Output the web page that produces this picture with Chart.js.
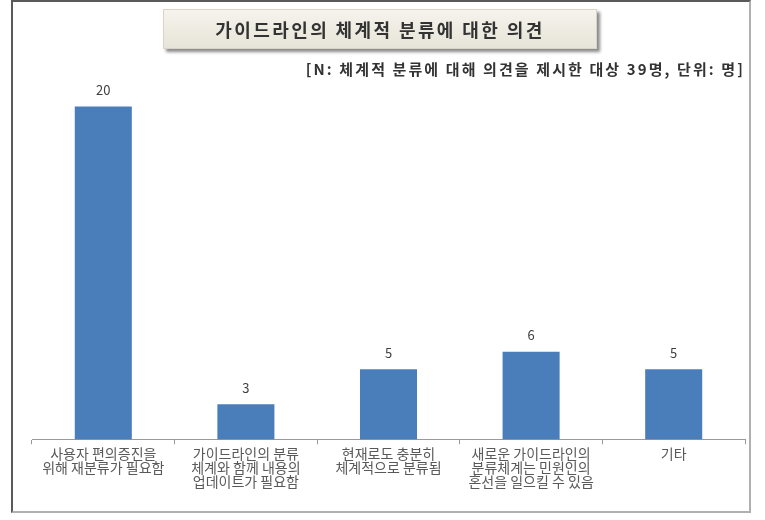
<!DOCTYPE html>
<html>
<head>
<meta charset="utf-8">
<script src="https://cdn.jsdelivr.net/npm/chart.js@4/dist/chart.umd.min.js"></script>
<style>
  html, body { margin: 0; padding: 0; background: #fff; }
  #wrap { position: relative; width: 765px; height: 520px; overflow: hidden; }
  #frame { position: absolute; left: 11px; top: 0px; width: 736px; height: 509px;
           border-left: 2px solid #5a5a5a; border-top: 2px solid #5a5a5a;
           border-right: 2px solid #b0b0b0; border-bottom: 2px solid #b0b0b0; pointer-events: none; }
  #titlebox { position: absolute; left: 163px; top: 9px; width: 432px; height: 38px;
              background: linear-gradient(#f5f3ec, #e7e4d8);
              box-shadow: 3px 3px 3px #8a8a8a; border: 1px solid #d8d5c8;
              font-family: "Noto Sans CJK KR", sans-serif; font-weight: bold; font-size: 18px;
              letter-spacing: 2.4px;
              color: #333; text-align: center; line-height: 38px; }
  #subtitle { position: absolute; right: 20px; top: 58px;
              font-family: "Noto Sans CJK KR", sans-serif; font-weight: bold; font-size: 15px;
              letter-spacing: 2.1px; color: #333; }
  canvas { position: absolute; left: 0; top: 0; }
</style>
</head>
<body>
<div id="wrap">
  <canvas id="c" width="765" height="520"></canvas>
  <div id="titlebox">가이드라인의 체계적 분류에 대한 의견</div>
  <div id="subtitle">[N: 체계적 분류에 대해 의견을 제시한 대상 39명, 단위: 명]</div>
  <div id="frame"></div>
</div>
<script>
const categories = [
  ["사용자 편의증진을", "위해 재분류가 필요함"],
  ["가이드라인의 분류", "체계와 함께 내용의", "업데이트가 필요함"],
  ["현재로도 충분히", "체계적으로 분류됨"],
  ["새로운 가이드라인의", "분류체계는 민원인의", "혼선을 일으킬 수 있음"],
  ["기타"]
];
const values = [20, 3, 5, 6, 5];

const valueLabels = {
  id: 'valueLabels',
  afterDatasetsDraw(chart) {
    const ctx = chart.ctx;
    const meta = chart.getDatasetMeta(0);
    ctx.save();
    ctx.font = '13px "Noto Sans CJK KR", sans-serif';
    ctx.fillStyle = '#404040';
    ctx.textAlign = 'center';
    ctx.textBaseline = 'bottom';
    meta.data.forEach((bar, i) => {
      ctx.fillText(String(values[i]), bar.x, bar.y - 10);
    });
    ctx.restore();
  }
};

new Chart(document.getElementById('c'), {
  type: 'bar',
  data: {
    labels: categories,
    datasets: [{
      data: values,
      backgroundColor: '#4A7EBB',
      borderWidth: 0,
      categoryPercentage: 1.0,
      barPercentage: 0.4
    }]
  },
  options: {
    responsive: false,
    animation: false,
    devicePixelRatio: 1,
    layout: { padding: { left: 32, right: 20, top: 89, bottom: 29 } },
    plugins: { legend: { display: false }, tooltip: { enabled: false }, title: { display: false } },
    scales: {
      x: {
        offset: true,
        grid: { display: true, offset: true, drawOnChartArea: false, drawTicks: true, tickLength: 5, color: '#9a9a9a' },
        border: { display: true, color: '#9a9a9a', width: 1 },
        ticks: {
          font: { family: '"Noto Sans CJK KR", sans-serif', size: 14, lineHeight: 0.97 },
          color: '#595959',
          maxRotation: 0,
          autoSkip: false,
          padding: 3
        }
      },
      y: {
        display: false,
        min: 1,
        max: 21
      }
    }
  },
  plugins: [valueLabels]
});
</script>
</body>
</html>
